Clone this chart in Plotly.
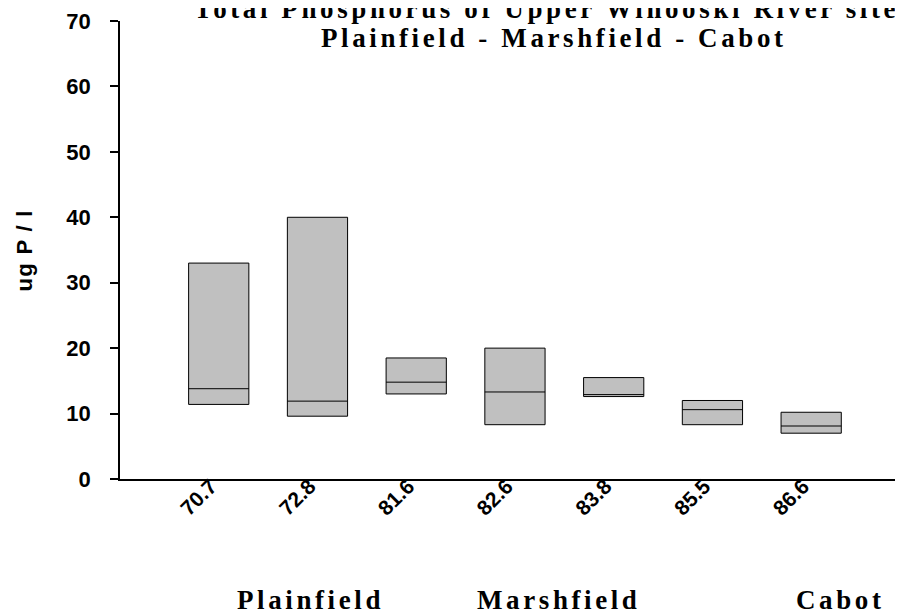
import plotly.graph_objects as go

# Sites (river mile) and box statistics, ug P / l
sites = ['70.7', '72.8', '81.6', '82.6', '83.8', '85.5', '86.6']
q1 = [11.4, 9.6, 13.0, 8.3, 12.6, 8.3, 7.0]
median = [13.8, 11.9, 14.8, 13.3, 12.9, 10.6, 8.1]
q3 = [33.0, 40.0, 18.5, 20.0, 15.5, 12.0, 10.2]

towns = ['Plainfield', 'Marshfield', 'Cabot']
town_x = [0.243, 0.561, 0.920]

title_lines = ['Total Phosphorus of Upper Winooski River site',
               'Plainfield - Marshfield - Cabot']

SERIF = 'Liberation Serif, Times New Roman, serif'
SANS = 'Liberation Sans, Arial, sans-serif'


def spaced(s, px=3.6):
    return f'<span style="letter-spacing:{px}px">{s}</span>'


fig = go.Figure()
fig.add_trace(go.Box(
    x=sites, q1=q1, median=median, q3=q3,
    lowerfence=q1, upperfence=q3,
    width=0.61, whiskerwidth=0,
    fillcolor='#c0c0c0',
    line=dict(color='black', width=1),
    showlegend=False,
))

# the page body adds an 8px margin, so the figure is 8px smaller than the window
fig.update_layout(
    width=895, height=607,
    margin=dict(l=112, r=0, t=13, b=136),
    plot_bgcolor='white', paper_bgcolor='white',
    xaxis=dict(
        type='category', range=[-1, 6.93], automargin=False,
        showline=True, linecolor='black', linewidth=1.5,
        showgrid=False, zeroline=False, ticks='',
        tickangle=-45, ticklabelstandoff=-15, ticklabelshift=-8,
        tickfont=dict(family=SANS, size=21, color='black', weight='bold'),
    ),
    yaxis=dict(
        range=[0, 70], tickvals=[0, 10, 20, 30, 40, 50, 60, 70], automargin=False,
        showline=True, linecolor='black', linewidth=1.5,
        showgrid=False, zeroline=False,
        ticks='outside', ticklen=8, tickcolor='black', tickwidth=1.5,
        ticklabelstandoff=15,
        tickfont=dict(family=SANS, size=22, color='black', weight='bold'),
    ),
)

# x axis line runs a little past the y axis, as in the original
fig.add_shape(type='line', xref='paper', yref='paper', x0=-0.011, x1=0, y0=0, y1=0,
              line=dict(color='black', width=1.5))

fig.add_annotation(
    text=spaced('ug P / l', 1.3), xref='paper', yref='paper', x=-0.122, y=0.5,
    xanchor='center', yanchor='middle', textangle=-90, showarrow=False,
    font=dict(family=SANS, size=22, color='black', weight='bold'),
)

for line, tx, ty in zip(title_lines, [0.545, 0.554], [1.027, 0.963]):
    fig.add_annotation(
        text=spaced(line), xref='paper', yref='paper', x=tx, y=ty,
        xanchor='center', yanchor='middle', showarrow=False,
        font=dict(family=SERIF, size=27, color='black', weight='bold'),
    )

for name, tx in zip(towns, town_x):
    fig.add_annotation(
        text=spaced(name), xref='paper', yref='paper', x=tx, y=-0.265,
        xanchor='center', yanchor='middle', showarrow=False,
        font=dict(family=SERIF, size=27, color='black', weight='bold'),
    )

fig.write_html('out.html')
